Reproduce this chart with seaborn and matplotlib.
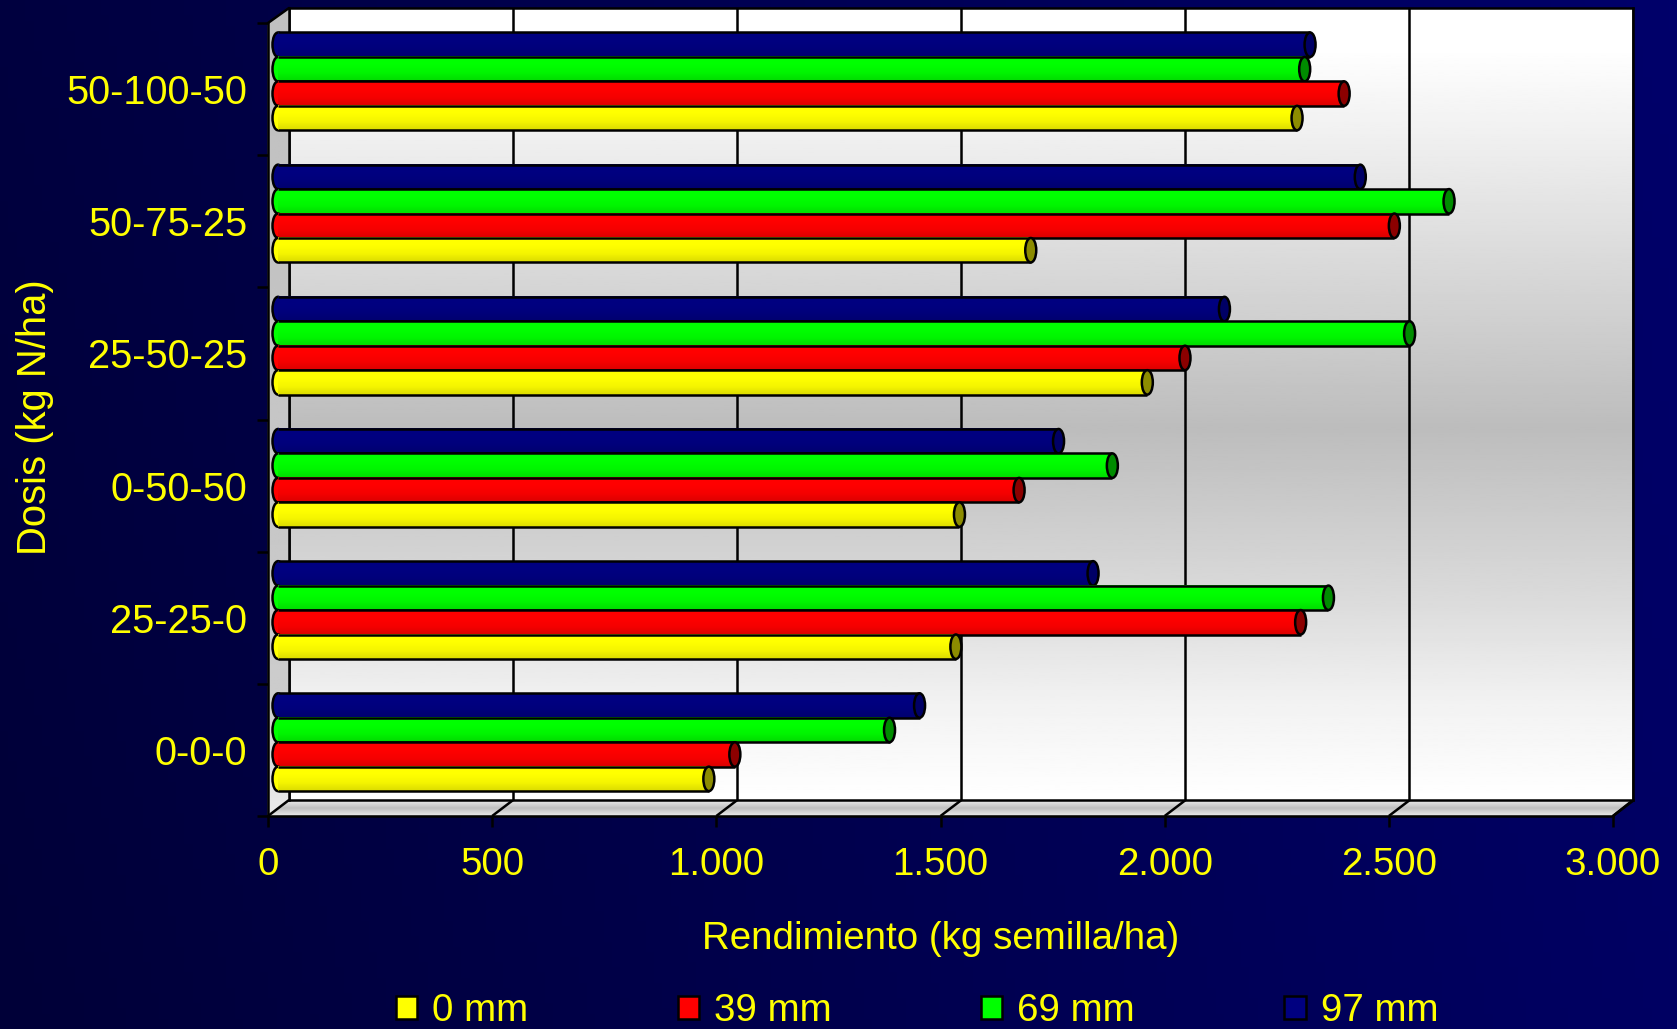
import numpy as np
import pandas as pd
import matplotlib
matplotlib.use("Agg")
import matplotlib.pyplot as plt
from matplotlib.patches import Ellipse, Polygon, Patch
from matplotlib.colors import LinearSegmentedColormap, to_rgb
import seaborn as sns

dosis = ["50-100-50", "50-75-25", "25-50-25", "0-50-50", "25-25-0", "0-0-0"]
mm_0 = [2273, 1679, 1939, 1520, 1512, 961]
mm_39 = [2378, 2490, 2023, 1653, 2281, 1019]
mm_69 = [2290, 2612, 2524, 1861, 2343, 1364]
mm_97 = [2302, 2414, 2111, 1741, 1818, 1431]
series = ["0 mm", "39 mm", "69 mm", "97 mm"]
colors = ["#ffff00", "#ff0000", "#00ff00", "#000080"]
xticks = [0, 500, 1000, 1500, 2000, 2500, 3000]
xticklabels = ["0", "500", "1.000", "1.500", "2.000", "2.500", "3.000"]

W, H = 1677, 1029
YEL = "#ffff00"
sns.set_theme(style="white")
plt.rcParams["font.family"] = ["Liberation Sans", "DejaVu Sans"]
FS = 27.7
LW = 1.8

fig = plt.figure(figsize=(W / 100, H / 100), dpi=100, facecolor="#000050")


def box(l, t, r, b):
    return [l / W, 1 - b / H, (r - l) / W, (b - t) / H]


# page background + frame pieces, in pixel coordinates
bg = fig.add_axes([0, 0, 1, 1], zorder=0)
bg.set_xlim(0, W)
bg.set_ylim(H, 0)
bg.axis("off")
navy = LinearSegmentedColormap.from_list("n", ["#000038", "#00006a"])
xx, yy = np.meshgrid(np.linspace(0, 1, 200), np.linspace(1, 0, 200))
bg.imshow(0.85 * xx + 0.15 * yy, cmap=navy, extent=[0, W, H, 0], aspect="auto", vmin=0, vmax=1, zorder=0)

FL, FR, FT, FB = 268, 1613, 23, 816     # front plane
BL, BR, BT, BB = 289, 1633, 8, 800      # back wall


def band(stops, ext, clip):
    ys = np.linspace(0, 1, 300)
    pos, vals = zip(*stops)
    g = np.interp(ys, pos, vals)[:, None]
    im = bg.imshow(g, cmap="gray", vmin=0, vmax=1, extent=ext, aspect="auto", zorder=1)
    poly = Polygon(clip, closed=True, transform=bg.transData, fc="none", ec="none")
    bg.add_patch(poly)
    im.set_clip_path(poly)


side = [(FL, FT), (BL, BT), (BL, BB), (FL, FB)]
band([(0, .75), (.6, .78), (.85, .80), (1, .92)], [FL, BL, FB, BT], side)
floor = [(FL, FB), (BL, BB), (BR, BB), (FR, FB)]
band([(0, .93), (.5, .75), (1, .92)], [FL, BR, FB, BB], floor)
bg.add_patch(Polygon(side, closed=True, fc="none", ec="#a0a0a0", lw=0.6, zorder=2))
bg.add_patch(Polygon(floor, closed=True, fc="none", ec="#a0a0a0", lw=0.6, zorder=2))
bg.plot([FL, BL], [FT, BT], color="black", lw=LW, zorder=3)
bg.plot([FR, BR], [FB, BB], color="black", lw=LW, zorder=3)
for t in xticks:
    f = FL + (FR - FL) * t / 3000
    bg.plot([f, f + (BL - FL)], [FB, BB], color="black", lw=LW, zorder=3, solid_capstyle="butt")

# back wall
back = fig.add_axes(box(BL, BT, BR, BB), zorder=1)
back.set_xlim(0, 3000)
back.set_ylim(1, 0)
ys = np.linspace(0, 1, 400)
grad = np.interp(ys, [0, .05, .53, .75, .88, 1], [1, 1, .74, .86, .95, 1])[:, None]
back.imshow(grad, cmap="gray", vmin=0, vmax=1, extent=[0, 3000, 1, 0], aspect="auto", zorder=0)
back.set_xticks(xticks)
back.set_yticks([])
back.tick_params(length=0, labelbottom=False)
back.grid(True, axis="x", color="black", lw=LW)
back.set_axisbelow(False)
for s in back.spines.values():
    s.set_color("black")
    s.set_linewidth(LW)

# front axis: ticks, labels, legend
front = fig.add_axes(box(FL, FT, FR, FB), zorder=2)
front.patch.set_alpha(0)
front.set_xlim(0, 3000)
front.set_ylim(5.5, -0.5)
for n in ("top", "right"):
    front.spines[n].set_visible(False)
for n in ("left", "bottom"):
    front.spines[n].set_color("black")
    front.spines[n].set_linewidth(LW)
front.set_xticks(xticks)
front.set_xticklabels(xticklabels)
front.set_yticks(np.arange(-0.5, 6, 1))
front.set_yticklabels([])
front.set_yticks(np.arange(6), labels=dosis, minor=True)
front.tick_params(axis="both", which="major", direction="out", length=8, width=LW, color="black",
                  left=True, bottom=True, labelsize=FS, labelcolor=YEL)
front.tick_params(axis="x", pad=14)
front.tick_params(axis="y", which="minor", length=0, left=False, labelsize=28.6, labelcolor=YEL, pad=15)
front.set_xlabel("Rendimiento (kg semilla/ha)", color=YEL, fontsize=FS)
front.set_ylabel("Dosis (kg N/ha)", color=YEL, fontsize=28.8)
front.xaxis.set_label_coords((941 - FL) / (FR - FL), -(939 - FB) / (FB - FT), transform=front.transAxes)
front.xaxis.label.set_va("center")
front.yaxis.set_label_coords(-(FL - 35) / (FR - FL), (FB - 417) / (FB - FT), transform=front.transAxes)
front.yaxis.label.set_va("center")

handles = [Patch(facecolor=c, edgecolor="black", linewidth=LW) for c in colors]
leg = fig.legend(handles, series, ncol=4, loc="center", bbox_to_anchor=(917 / W, 1 - 1011 / H),
                 frameon=False, fontsize=FS, labelcolor=YEL, handlelength=0.55, handleheight=0.55,
                 handletextpad=0.4, columnspacing=3.88)

# bars at mid depth
ax = fig.add_axes(box(278, 15.3, 1623, 808.3), zorder=3)
ax.patch.set_alpha(0)
df = pd.DataFrame({"Dosis": dosis, "0 mm": mm_0, "39 mm": mm_39, "69 mm": mm_69, "97 mm": mm_97})
long = df.melt(id_vars="Dosis", var_name="Lamina", value_name="Rendimiento")
order = series[::-1]
sns.barplot(data=long, y="Dosis", x="Rendimiento", hue="Lamina", order=dosis, hue_order=order,
            palette=dict(zip(series, colors)), width=0.74, gap=0, dodge=True, linewidth=0,
            legend=False, ax=ax, orient="h", saturation=1)
ax.set_xlim(0, 3000)
ax.set_ylim(5.5, -0.5)
ax.axis("off")

capw = 11 / ((1623 - 278) / 3000)
patches = list(ax.patches)
for k, col in enumerate(order):
    base = np.array(to_rgb(colors[series.index(col)]))
    top = np.minimum(base * 1.0, 1)
    bot = base * 0.86
    cmap = LinearSegmentedColormap.from_list(col, [top, top, base * 0.96, bot])
    cap = base * (0.55 if col != "97 mm" else 0.8)
    for j in range(len(dosis)):
        p = patches[k * len(dosis) + j]
        x, y, w, h = p.get_x(), p.get_y(), p.get_width(), p.get_height()
        z = 2 + k * 0.1
        ax.add_patch(Ellipse((x, y + h / 2), capw, h, fc=top, ec="black", lw=LW, clip_on=False, zorder=z))
        im = ax.imshow(np.linspace(0, 1, 64)[:, None], cmap=cmap, vmin=0, vmax=1,
                       extent=[x, x + w, y + h, y], aspect="auto", zorder=z + 0.01, interpolation="bilinear")
        p.set_visible(False)
        ax.hlines([y, y + h], x, x + w, color="black", lw=LW, zorder=z + 0.02)
        ax.add_patch(Ellipse((x + w, y + h / 2), capw, h, fc=cap, ec="black", lw=LW, clip_on=False, zorder=z + 0.03))
ax.set_xlim(0, 3000)
ax.set_ylim(5.5, -0.5)

fig.savefig("out.png", dpi=100, facecolor=fig.get_facecolor())
